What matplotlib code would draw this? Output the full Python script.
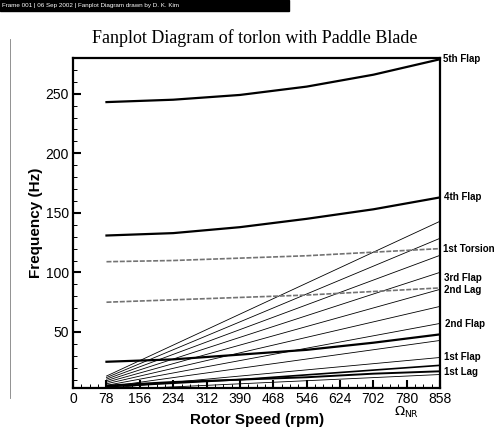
import numpy as np
import matplotlib.pyplot as plt
from matplotlib.patches import Rectangle
from matplotlib.ticker import MultipleLocator

# rotor speed ticks (rpm)
rpm_ticks = [0, 78, 156, 234, 312, 390, 468, 546, 624, 702, 780, 858]

# mode frequencies (Hz) at these rotor speeds
rpm_pts = [78, 234, 390, 546, 702, 858]
flap5 = [243, 245, 249, 256, 266, 279]
flap4 = [131, 133, 138, 145, 153, 163]
torsion1 = [109, 110, 112, 114, 117, 120]
lag2 = [75, 77, 79, 81, 84, 87]
flap2 = [25, 27, 31, 35, 41, 48]
flap1 = [4, 7, 10, 14, 18, 22]
lag1 = [5, 8, 10, 12, 15, 17]

# per-rev excitation lines 1P..10P
n_rev = [1, 2, 3, 4, 5, 6, 7, 8, 9, 10]
rpm_range = [78, 858]

# right side labels (text, freq, x offset in rpm)
labels = ['5th Flap', '4th Flap', '1st Torsion', '3rd Flap', '2nd Lag',
          '2nd Flap', '1st Flap', '1st Lag']
label_y = [279, 163, 120, 95, 85, 57, 29, 16]
label_dx = [6, 8, 6, 8, 8, 12, 8, 8]

fig = plt.figure(figsize=(4.94, 4.33), dpi=100)
ax = fig.add_axes([0.148, 0.104, 0.743, 0.762])

for n in n_rev:
    f = [n * r / 60.0 for r in rpm_range]
    ax.plot(rpm_range, f, color='black', lw=0.6)

ax.plot(rpm_pts, flap5, color='black', lw=1.6)
ax.plot(rpm_pts, flap4, color='black', lw=1.6)
ax.plot(rpm_pts, flap2, color='black', lw=1.6)
ax.plot(rpm_pts, flap1, color='black', lw=1.2)
ax.plot(rpm_pts, lag1, color='black', lw=1.4)
ax.plot(rpm_pts, torsion1, color='0.45', lw=1.2, ls=(0, (3, 1)))
ax.plot(rpm_pts, lag2, color='0.45', lw=1.2, ls=(0, (3, 1)))

ax.set_xlim(0, 858)
ax.set_ylim(3, 280)
ax.set_xticks(rpm_ticks)
ax.set_xticklabels([str(v) for v in rpm_ticks], fontsize=10, family='Liberation Sans')
ax.set_yticks([50, 100, 150, 200, 250])
ax.set_yticklabels(['50', '100', '150', '200', '250'], fontsize=10, family='Liberation Sans')
ax.xaxis.set_minor_locator(MultipleLocator(19.5))
ax.yaxis.set_minor_locator(MultipleLocator(10))
ax.tick_params(which='major', direction='in', length=6, width=1.5, pad=3)
ax.tick_params(which='minor', direction='in', length=3, width=0.7)
for s in ax.spines.values():
    s.set_linewidth(1.6)

ax.set_xlabel('Rotor Speed (rpm)', fontsize=11, fontweight='bold', family='Liberation Sans', labelpad=5)
ax.set_ylabel('Frequency (Hz)', fontsize=11, fontweight='bold', family='Liberation Sans', labelpad=2)
ax.text(780, -11, r'$\Omega_{\mathrm{NR}}$', ha='center', va='top', fontsize=9.5, family='Liberation Serif')

for t, y, dx in zip(labels, label_y, label_dx):
    ax.text(858 + dx, y, t, ha='left', va='center', fontsize=7, fontweight='bold',
            family='Liberation Sans', clip_on=False)

fig.text(0.515, 0.912, 'Fanplot Diagram of torlon with Paddle Blade', ha='center', va='center',
         fontsize=13, family='Liberation Serif')

# scan header bar
fig.patches.append(Rectangle((0, 0.975), 0.585, 0.025, transform=fig.transFigure,
                             color='black', zorder=5))
fig.text(0.005, 0.987, 'Frame 001 | 06 Sep 2002 | Fanplot Diagram drawn by D. K. Kim',
         color='white', fontsize=4.5, va='center', ha='left', zorder=6, family='Liberation Sans')
fig.lines.append(plt.Line2D([0.02, 0.02], [0.08, 0.91], transform=fig.transFigure,
                            color='0.5', lw=0.6))

fig.savefig('out.png', dpi=100)
